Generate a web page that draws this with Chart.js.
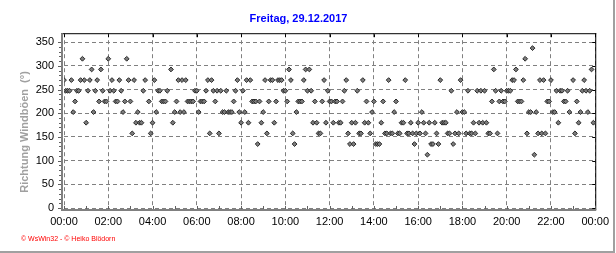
<!DOCTYPE html>
<html>
<head>
<meta charset="utf-8">
<script src="https://cdn.jsdelivr.net/npm/chart.js@4"></script>
<style>
html, body { margin: 0; padding: 0; background: #fff; }
canvas { display: block; }
</style>
</head>
<body>
<canvas id="chart" width="616" height="253"></canvas>
<script>
// Chart data
const titleText = 'Freitag, 29.12.2017';
const axisTitle = 'Richtung Windböen  (°)';
const footerText = '© WsWin32 - © Heiko Blödorn';
const stepMinutes = 5;
const timeLabels = ['00:00', '02:00', '04:00', '06:00', '08:00', '10:00', '12:00',
    '14:00', '16:00', '18:00', '20:00', '22:00', '00:00'];
const yTickValues = [0, 50, 100, 150, 200, 250, 300, 350];

// wind gust direction (deg), one reading every 5 minutes from 00:00
const windDirection = [
    270, 247.5, 247.5, 247.5, 270, 202.5, 225, 247.5, 247.5, 270,
    315, 270, 180, 247.5, 270, 292.5, 202.5, 247.5, 270, 225,
    292.5, 247.5, 225, 225, 315, 247.5, 270, 247.5, 225, 225,
    270, 247.5, 202.5, 225, 315, 270, 225, 157.5, 270, 180,
    202.5, 180, 180, 247.5, 270, null, 225, 157.5, 180, 270,
    202.5, 247.5, 247.5, 225, 225, 225, 247.5, null, 292.5, 180,
    202.5, 225, 270, 202.5, 270, 202.5, 270, 225, 225, 225,
    225, 247.5, 247.5, 202.5, 225, 225, 225, 247.5, 270, 157.5,
    270, 247.5, 225, 247.5, 157.5, 247.5, 202.5, 202.5, 247.5, 202.5,
    202.5, 202.5, 225, 247.5, 270, 202.5, 180, 247.5, 202.5, 270,
    180, 270, 225, 225, 225, 135, 225, 180, 202.5, 270,
    157.5, 225, 270, 270, 180, 225, 270, 270, 270, 247.5,
    247.5, 225, 292.5, 270, 157.5, 135, 202.5, 225, 225, 225,
    270, 292.5, 247.5, 292.5, 247.5, 180, 225, 180, 157.5, 157.5,
    225, 270, 180, 247.5, 225, 225, 180, 225, 225, 180,
    180, 225, 247.5, 270, 157.5, 135, 180, 135, 180, 247.5,
    157.5, 157.5, 270, 180, 225, 180, 157.5, 202.5, 225, 135,
    135, 135, 180, 225, 157.5, 157.5, 270, 157.5, 157.5, 202.5,
    225, 157.5, 157.5, 180, 180, 270, 157.5, 157.5, 180, 157.5,
    135, 157.5, 180, 157.5, 202.5, 180, 157.5, 112.5, 180, 135,
    135, 180, 157.5, 135, 270, 180, 180, 180, 157.5, 157.5,
    247.5, 135, 157.5, 202.5, 157.5, 270, 202.5, 202.5, 157.5, 247.5,
    157.5, 157.5, 180, 157.5, 247.5, 180, 247.5, 180, 247.5, 180,
    157.5, 157.5, 225, 292.5, 247.5, 157.5, 225, 247.5, 225, 225,
    247.5, 247.5, 247.5, 270, 270, 292.5, 225, 225, 225, 270,
    315, 157.5, 202.5, 202.5, 337.5, 112.5, 202.5, 157.5, 270, 157.5,
    270, 157.5, 225, 225, 270, 202.5, 202.5, 247.5, 180, 247.5,
    247.5, 225, 225, 247.5, 202.5, null, 270, 157.5, 225, 180,
    202.5, 247.5, 270, 247.5, 202.5, 247.5, 292.5, 180
];

const points = windDirection.map((v, i) => ({ x: i * stepMinutes, y: v }));

// axes, small ticks, footer and frame like the WsWin graphic
const decorations = {
    id: 'decorations',
    beforeDraw(chart) {
        const ctx = chart.ctx;
        ctx.save();
        ctx.fillStyle = '#fff';
        ctx.fillRect(0, 0, chart.width, chart.height);
        ctx.restore();
    },
    afterDraw(chart) {
        const ctx = chart.ctx;
        const a = chart.chartArea;
        const xs = chart.scales.x;
        const ys = chart.scales.y;
        ctx.save();

        // top + right border of plot
        ctx.fillStyle = '#000';
        ctx.fillRect(a.left - 3, a.top, a.right - a.left + 4, 1);
        ctx.fillRect(a.right, a.top, 1, a.bottom - a.top + 2);

        // gray axes
        ctx.fillStyle = '#808080';
        ctx.fillRect(a.left - 3, a.top, 2, a.bottom - a.top + 3);
        ctx.fillRect(a.left - 3, a.bottom + 1, a.right - a.left + 4, 2);

        // hour ticks on the x axis, 2h ticks on top border
        for (let h = 0; h <= 24; h++) {
            const px = Math.round(xs.getPixelForValue(h * 60));
            ctx.fillStyle = '#606060';
            ctx.fillRect(px, a.bottom - 2, 1, 3);
            if (h % 2 === 0) {
                ctx.fillStyle = '#000';
                ctx.fillRect(px, a.top + 1, 1, 3);
            }
        }
        // y ticks
        for (let v = 0; v <= 350; v += 10) {
            const py = Math.round(ys.getPixelForValue(v));
            const len = v % 50 === 0 ? 3 : 2;
            ctx.fillStyle = '#606060';
            ctx.fillRect(a.left - 3 - len, py, len, 1);
            if (v % 50 === 0) {
                ctx.fillStyle = '#000';
                ctx.fillRect(a.right - 3, py, 3, 1);
            }
        }

        // y axis title
        ctx.save();
        ctx.translate(25, 132);
        ctx.rotate(-Math.PI / 2);
        ctx.fillStyle = '#a0a0a0';
        ctx.font = 'bold 11px "Liberation Sans", Arial, sans-serif';
        ctx.textAlign = 'center';
        ctx.textBaseline = 'middle';
        ctx.fillText(axisTitle, 0, 0);
        ctx.restore();

        // footer
        ctx.fillStyle = '#ff0000';
        ctx.font = '7px "Liberation Sans", Arial, sans-serif';
        ctx.textBaseline = 'middle';
        ctx.fillText(footerText, 21, 239);

        // outer frame
        ctx.fillStyle = '#a0a0a0';
        ctx.fillRect(613, 0, 2, 253);
        ctx.fillRect(0, 251, 615, 2);
        ctx.restore();
    }
};

Chart.defaults.font.family = '"Liberation Sans", Arial, sans-serif';

new Chart(document.getElementById('chart'), {
    type: 'scatter',
    data: {
        datasets: [{
            data: points,
            pointStyle: 'rectRot',
            pointRadius: 2.4,
            pointHoverRadius: 2.4,
            backgroundColor: '#7c7c7c',
            borderColor: '#2a2a2a',
            borderWidth: 1
        }]
    },
    options: {
        responsive: false,
        animation: false,
        devicePixelRatio: 1,
        layout: { padding: { left: 0, right: 19, top: 0, bottom: 0 } },
        plugins: {
            legend: { display: false },
            tooltip: { enabled: false },
            title: {
                display: true,
                text: titleText,
                color: '#0000ff',
                font: { size: 11, weight: 'bold' },
                padding: { top: 12, bottom: 8 }
            }
        },
        scales: {
            x: {
                type: 'linear',
                min: 0,
                max: 1440,
                afterFit(scale) { scale.height = 45; },
                afterBuildTicks(scale) {
                    scale.ticks = timeLabels.map((_, i) => ({ value: i * 120 }));
                },
                ticks: {
                    callback: (value, index) => timeLabels[index],
                    color: '#000',
                    font: { size: 11 },
                    padding: 7,
                    maxRotation: 0,
                    autoSkip: false
                },
                grid: { color: '#808080', drawTicks: false },
                border: { display: false, dash: [4, 3] }
            },
            y: {
                min: 0,
                max: 369,
                afterFit(scale) { scale.width = 64; },
                afterBuildTicks(scale) {
                    scale.ticks = yTickValues.map(v => ({ value: v }));
                },
                ticks: {
                    color: '#000',
                    font: { size: 11 },
                    padding: 10
                },
                grid: { color: '#808080', drawTicks: false },
                border: { display: false, dash: [4, 3] }
            }
        }
    },
    plugins: [decorations]
});
</script>
</body>
</html>
